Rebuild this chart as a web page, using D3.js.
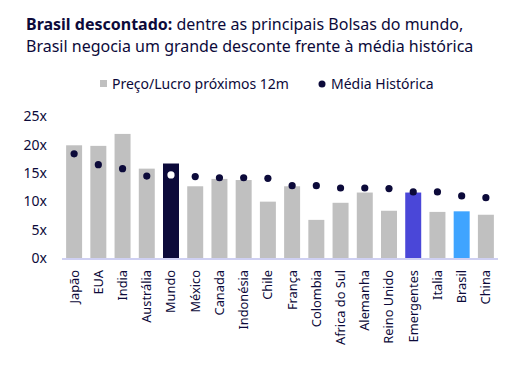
<!DOCTYPE html>
<html>
<head>
<meta charset="utf-8">
<script src="https://cdn.jsdelivr.net/npm/d3@7"></script>
<style>
  body { margin: 0; background: #fff; }
  svg { font-family: "Noto Sans", sans-serif; }
</style>
</head>
<body>
<svg class="svg" width="521" height="370"></svg>
<script>
// países / mercados
const paises = ["Japão", "EUA", "India", "Austrália", "Mundo", "México", "Canada", "Indonésia", "Chile",
  "França", "Colombia", "Africa do Sul", "Alemanha", "Reino Unido", "Emergentes", "Italia", "Brasil", "China"];

// P/L próximos 12m
const plProx12m = [19.8, 19.7, 21.8, 15.7, 16.6, 12.6, 13.9, 13.7, 9.9,
  12.6, 6.7, 9.7, 11.5, 8.3, 11.5, 8.1, 8.2, 7.6];

// média histórica
const mediaHist = [18.3, 16.4, 15.7, 14.4, 14.6, 14.3, 14.1, 14.1, 14.0,
  12.7, 12.7, 12.3, 12.3, 12.2, 11.6, 11.6, 10.9, 10.6];

const yTicks = [0, 5, 10, 15, 20, 25];

const navy = "#0c0a3a";
const corDestaque = { "Mundo": navy, "Emergentes": "#4a47d8", "Brasil": "#3fa4ff" };

const svg = d3.select(".svg");

// título
const titulo = svg.append("text")
  .attr("x", 26).attr("y", 30)
  .attr("font-size", 16)
  .attr("fill", navy);
titulo.append("tspan").attr("font-weight", "bold").text("Brasil descontado:");
titulo.append("tspan").text(" dentre as principais Bolsas do mundo,");
svg.append("text")
  .attr("x", 26).attr("y", 52)
  .attr("font-size", 16)
  .attr("fill", navy)
  .text("Brasil negocia um grande desconte frente à média histórica");

// legenda
const leg = svg.append("g").attr("font-size", 14).attr("fill", navy);
leg.append("rect").attr("x", 100).attr("y", 80).attr("width", 7).attr("height", 7).attr("fill", "#c0c0c0");
leg.append("text").attr("x", 112).attr("y", 89).text("Preço/Lucro próximos 12m");
leg.append("circle").attr("cx", 322).attr("cy", 84).attr("r", 3.5).attr("fill", navy);
leg.append("text").attr("x", 331).attr("y", 89).text("Média Histórica");

// escalas
const x = d3.scaleBand()
  .domain(paises)
  .range([62, 498])
  .paddingInner(0.34)
  .paddingOuter(0.17);

const y = d3.scaleLinear()
  .domain([0, 25])
  .range([258, 115.7]);

// eixo y
const yAxis = svg.append("g")
  .attr("transform", "translate(47,0)")
  .call(d3.axisLeft(y).tickValues(yTicks).tickSize(0).tickFormat(d => d + "x"));
yAxis.select(".domain").remove();
yAxis.selectAll("text")
  .attr("font-family", "Noto Sans, sans-serif")
  .attr("font-size", 14)
  .attr("fill", navy)
  .attr("x", 0)
  .attr("dy", "0.35em");

// barras
svg.selectAll(".bar")
  .data(paises)
  .enter()
  .append("rect")
  .attr("class", "bar")
  .attr("x", d => x(d))
  .attr("width", x.bandwidth())
  .attr("y", (d, i) => y(plProx12m[i]))
  .attr("height", (d, i) => y(0) - y(plProx12m[i]))
  .attr("fill", d => corDestaque[d] || "#c0c0c0");

// linha base
svg.append("line")
  .attr("x1", 62).attr("x2", 498)
  .attr("y1", y(0) + 1).attr("y2", y(0) + 1)
  .attr("stroke", "#cfd0f2")
  .attr("stroke-width", 2);

// pontos média histórica
svg.selectAll(".dot")
  .data(paises)
  .enter()
  .append("circle")
  .attr("class", "dot")
  .attr("cx", d => x(d) + x.bandwidth() / 2)
  .attr("cy", (d, i) => y(mediaHist[i]))
  .attr("r", 3.6)
  .attr("fill", d => d === "Mundo" ? "#fff" : navy);

// rótulos eixo x
const xAxis = svg.append("g")
  .attr("transform", `translate(0,${y(0)})`)
  .call(d3.axisBottom(x).tickSize(0));
xAxis.select(".domain").remove();
xAxis.selectAll("text")
  .attr("font-family", "Noto Sans, sans-serif")
  .attr("font-size", 12.8)
  .attr("fill", navy)
  .attr("transform", "rotate(-90)")
  .attr("text-anchor", "end")
  .attr("x", -12)
  .attr("y", 0)
  .attr("dy", "0.35em");
</script>
</body>
</html>
